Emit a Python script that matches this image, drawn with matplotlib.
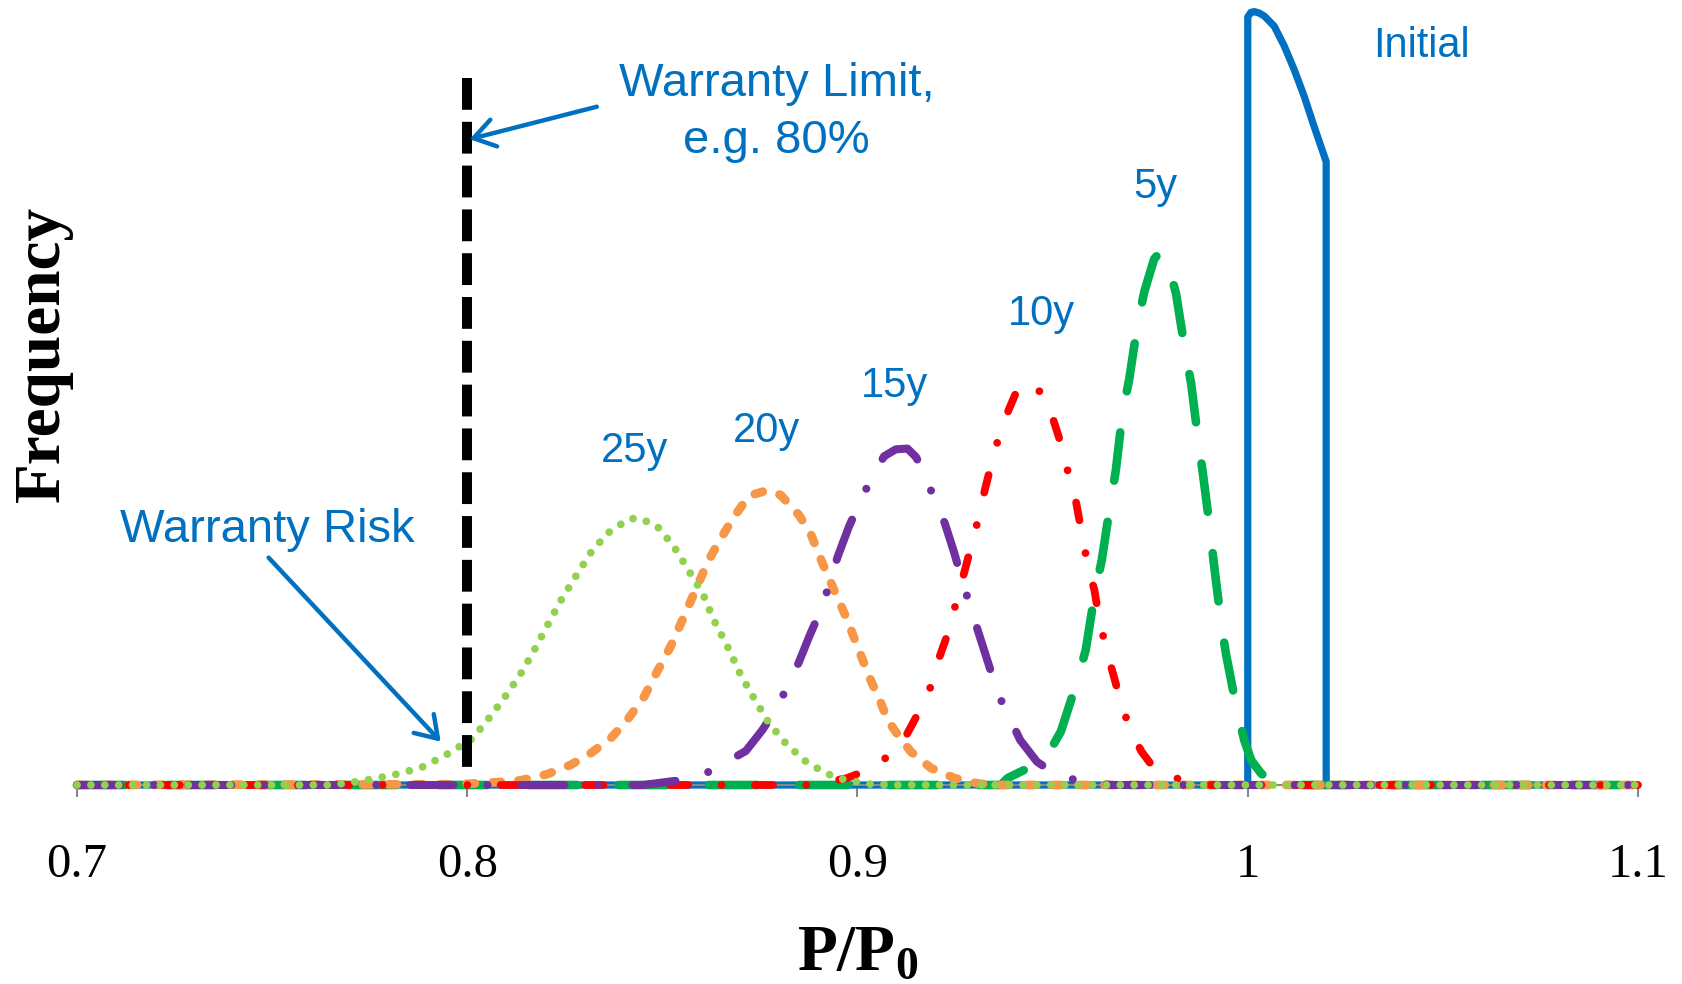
import matplotlib
matplotlib.use("Agg")
import matplotlib.pyplot as plt

plt.rcParams['lines.scale_dashes'] = False
plt.rcParams['mathtext.fontset'] = 'custom'
plt.rcParams['mathtext.rm'] = 'Liberation Serif:bold'
plt.rcParams['mathtext.bf'] = 'Liberation Serif:bold'
plt.rcParams['mathtext.it'] = 'Liberation Serif:bold'

# ---------------- data ----------------
x_ticks = [0.7, 0.8, 0.9, 1.0, 1.1]
x_tick_labels = ["0.7", "0.8", "0.9", "1", "1.1"]

initial_x = [0.700, 1.000, 1.000, 1.0008, 1.0017, 1.0030, 1.0043, 1.0068, 1.0094, 1.0119,
             1.0145, 1.0167, 1.0188, 1.0201, 1.0201, 1.100]
initial_y = [0, 0, 99.3, 99.9, 100.0, 99.8, 99.4, 98.1, 95.5, 92.5,
             89.0, 85.6, 82.5, 80.6, 0, 0]

y5_x = [0.700, 0.9367, 0.9385, 0.9462, 0.9487, 0.9521, 0.9564, 0.9585, 0.9608, 0.9626,
        0.9648, 0.9662, 0.9679, 0.9696, 0.9718, 0.9735, 0.9760, 0.9773, 0.9785, 0.9795,
        0.9816, 0.9839, 0.9855, 0.9873, 0.9885, 0.9904, 0.9913, 0.9932, 0.9944, 0.9973,
        0.9991, 1.0009, 1.0034, 1.0064, 1.0090, 1.100]
y5_y = [0, 0, 0.9, 2.8, 3.9, 6.9, 13.6, 17.5, 24.8, 29.1,
        36.4, 40.7, 48.1, 52.4, 59.7, 63.8, 68.0, 68.8, 68.6, 67.5,
        63.6, 56.3, 51.9, 44.6, 40.3, 32.8, 28.7, 20.9, 17.0, 9.5,
        5.8, 3.2, 1.5, 0.4, 0, 0]

y10_x = [0.700, 0.8880, 0.8914, 0.8974, 0.9038, 0.9096, 0.9126, 0.9161, 0.9192, 0.9209,
         0.9235, 0.9255, 0.9272, 0.9292, 0.9312, 0.9326, 0.9346, 0.9367, 0.9389, 0.9405,
         0.9427, 0.9450, 0.9479, 0.9500, 0.9524, 0.9543, 0.9560, 0.9575, 0.9590, 0.9607,
         0.9620, 0.9639, 0.9656, 0.9677, 0.9701, 0.9728, 0.9767, 0.9846, 0.9900, 1.100]
y10_y = [0, 0, 0.3, 0.9, 2.2, 4.4, 6.5, 9.8, 13.2, 16.4,
         20.1, 24.1, 27.2, 31.0, 34.9, 38.1, 42.1, 45.9, 48.7, 50.6,
         52.0, 51.8, 50.2, 47.5, 43.7, 39.7, 36.6, 32.5, 28.4, 25.2,
         21.3, 17.2, 14.2, 10.3, 6.9, 4.3, 1.7, 0.4, 0, 0]

y15_x = [0.700, 0.8450, 0.8543, 0.8611, 0.8658, 0.8714, 0.8756, 0.8795, 0.8850, 0.8878,
         0.8910, 0.8949, 0.8978, 0.9009, 0.9038, 0.9068, 0.9098, 0.9128, 0.9150, 0.9171,
         0.9196, 0.9224, 0.9248, 0.9269, 0.9312, 0.9336, 0.9359, 0.9417, 0.9460, 0.9513,
         0.9564, 0.9615, 0.9650, 1.100]
y15_y = [0, 0, 0.6, 1.5, 2.8, 4.4, 7.1, 10.1, 15.9, 19.4,
         23.1, 29.5, 33.4, 36.9, 39.9, 42.5, 43.4, 43.5, 42.4, 40.3,
         37.1, 33.8, 30.0, 26.3, 19.4, 15.6, 11.9, 5.8, 3.0, 1.2,
         0.6, 0.2, 0, 0]

y20_x = [0.700, 0.7974, 0.8060, 0.8137, 0.8205, 0.8265, 0.8316, 0.8367, 0.8410, 0.8453,
         0.8487, 0.8521, 0.8551, 0.8585, 0.8615, 0.8645, 0.8684, 0.8722, 0.8769, 0.8803,
         0.8850, 0.8880, 0.8910, 0.8940, 0.8970, 0.9000, 0.9030, 0.9060, 0.9077, 0.9110,
         0.9137, 0.9188, 0.9248, 0.9308, 0.9350, 1.100]
y20_y = [0, 0.1, 0.3, 0.6, 1.4, 2.6, 4.1, 6.0, 8.4, 11.4,
         14.7, 17.9, 21.3, 25.2, 28.7, 31.5, 34.7, 37.4, 38.1, 37.5,
         34.9, 32.5, 28.7, 25.2, 21.8, 17.9, 14.0, 10.6, 8.4, 6.0,
         4.3, 2.2, 0.9, 0.2, 0, 0]

y25_x = [0.700, 0.7650, 0.7700, 0.7760, 0.7829, 0.7889, 0.7949, 0.8013, 0.8055, 0.8098,
         0.8135, 0.8169, 0.8205, 0.8238, 0.8277, 0.8316, 0.8358, 0.8414, 0.8440, 0.8486,
         0.8530, 0.8564, 0.8603, 0.8632, 0.8667, 0.8701, 0.8735, 0.8773, 0.8816, 0.8863,
         0.8919, 0.8966, 0.9034, 0.9100, 1.100]
y25_y = [0, 0, 0.3, 0.8, 1.5, 2.4, 4.0, 6.0, 8.6, 11.5,
         14.2, 17.2, 20.6, 23.7, 26.9, 30.0, 32.5, 34.4, 34.5, 33.5,
         30.8, 28.0, 24.8, 21.3, 17.9, 14.2, 11.2, 8.0, 5.4, 3.2,
         1.5, 0.7, 0.1, 0, 0]

warranty_limit = 0.8
warranty_line_y = [91.4, 2.3]

series_labels = ["Initial", "5y", "10y", "15y", "20y", "25y"]
label_x = [1.0445, 0.9763, 0.9472, 0.9096, 0.8766, 0.8428]
label_y = [94.1, 75.9, 59.5, 50.2, 44.4, 41.8]

limit_text = "Warranty Limit,\ne.g. 80%"
limit_text_xy = (0.8793, 81.7)
limit_arrow_head = (0.8006, 83.5)
limit_arrow_tail = (0.8332, 87.7)

risk_text = "Warranty Risk"
risk_text_xy = (0.7488, 31.4)
risk_arrow_head = (0.7932, 5.6)
risk_arrow_tail = (0.7491, 29.4)

# ---------------- styling ----------------
BLUE = "#0070C0"
fig = plt.figure(figsize=(16.82, 9.84), dpi=100)
ax = fig.add_axes([77 / 1682, 1 - 785 / 984, (1638 - 77) / 1682, 785 / 984])
ax.set_xlim(0.7, 1.1)
ax.set_ylim(0, 101.5)

ax.plot(initial_x, initial_y, color=BLUE, lw=5.2, zorder=2, solid_joinstyle='round',
        solid_capstyle='butt', clip_on=False)
ax.plot(y5_x, y5_y, color="#00B050", lw=6.2, ls=(0, (35, 30)), dash_capstyle='round', zorder=3, clip_on=False)
ax.plot(y20_x, y20_y, color="#F79646", lw=6.3, ls=(0, (6, 12.7)), dash_capstyle='round', zorder=4, clip_on=False)
ax.plot(y10_x, y10_y, color="#FF0000", lw=5.6, ls=(0, (13, 24, 0.01, 24)), dash_capstyle='round', zorder=5, clip_on=False)
ax.plot(y15_x, y15_y, color="#7030A0", lw=5.8, ls=(0, (31, 24.5, 0.01, 24.5)), dash_capstyle='round', zorder=6, clip_on=False)
ax.plot(y25_x, y25_y, color="#92D050", lw=5.6, ls=(0, (0.01, 10)), dash_capstyle='round', zorder=7, clip_on=False)

ax.plot([warranty_limit, warranty_limit], warranty_line_y, color="black", lw=7.2,
        ls=(0, (22.9, 8.64)), dash_capstyle='butt', zorder=8, clip_on=False)

for t, x, y in zip(series_labels, label_x, label_y):
    ax.text(x, y, t, color=BLUE, fontsize=30, family="Liberation Sans",
            ha='center', va='baseline', zorder=10)

ax.text(*limit_text_xy, limit_text, color=BLUE, fontsize=34, family="Liberation Sans",
        ha='center', va='baseline', multialignment='center', linespacing=1.39, zorder=10)
ax.text(*risk_text_xy, risk_text, color=BLUE, fontsize=34, family="Liberation Sans",
        ha='center', va='baseline', zorder=10)

arrow_props = dict(arrowstyle='->,head_length=0.5,head_width=0.33', color=BLUE, lw=3.2,
                   mutation_scale=30, shrinkA=0, shrinkB=0)
ax.annotate('', xy=limit_arrow_head, xytext=limit_arrow_tail, arrowprops=arrow_props,
            annotation_clip=False, zorder=9)
ax.annotate('', xy=risk_arrow_head, xytext=risk_arrow_tail, arrowprops=arrow_props,
            annotation_clip=False, zorder=9)

# axes
for s in ['left', 'right', 'top']:
    ax.spines[s].set_visible(False)
ax.spines['bottom'].set_color('#888888')
ax.spines['bottom'].set_linewidth(1.5)
ax.set_yticks([])
ax.set_xticks(x_ticks)
ax.set_xticklabels(x_tick_labels, family="Liberation Serif", fontsize=35)
ax.tick_params(axis='x', direction='out', length=8.6, width=1.5, color='#888888', pad=33)

ax.set_xlabel(r'$\mathbf{P/P_0}$', fontsize=47)
ax.xaxis.label.set_va('baseline')
ax.xaxis.set_label_coords(0.5, (785 - 970) / 785)

ax.set_ylabel("Frequency", family="Liberation Serif", fontweight='bold', fontsize=47)
ax.yaxis.label.set_va('center')
ax.yaxis.set_label_coords((43 - 77) / 1561, (785 - 354) / 785)

fig.savefig("out.png", dpi=100)
